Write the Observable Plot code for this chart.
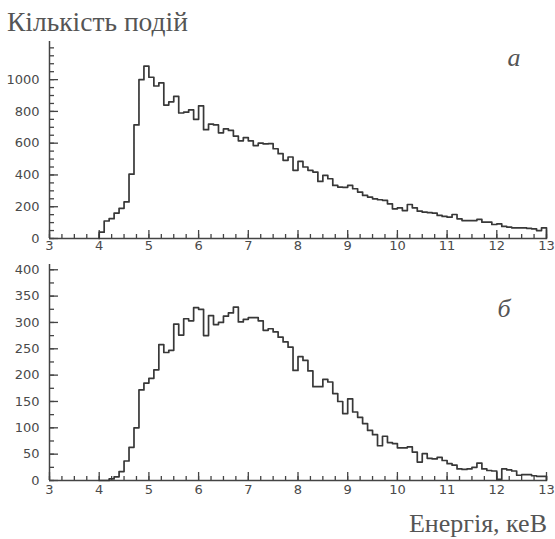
<!DOCTYPE html>
<html><head><meta charset="utf-8">
<script src="https://cdn.jsdelivr.net/npm/d3@7"></script>
<script src="https://cdn.jsdelivr.net/npm/@observablehq/plot@0.6"></script>
<style>
body{margin:0;background:#fff}
#chart{position:relative;width:555px;height:539px;overflow:hidden;background:#fff}
#chart svg{position:absolute;left:0}
</style></head><body><div id="chart"></div>
<script>
// histogram bins: 0.1 keV wide, starting at 4.0 keV
const binStart = 4.0, binWidth = 0.1;
// panel (а)
const countsA = [
  40,110,125,160,190,230,405,715,1000,1085,
  1015,960,980,840,860,895,790,795,810,750,
  835,685,720,715,665,690,680,645,615,635,
  615,585,600,595,597,565,534,492,513,429,
  485,450,429,418,359,397,376,334,324,322,
  334,313,292,271,261,250,244,240,218,187,
  193,176,214,193,172,166,163,160,145,139,
  134,151,124,113,113,113,120,103,103,88,
  92,76,72,67,67,67,64,61,50,67
];
// panel (б)
const countsB = [
  0,0,3,7,17,37,63,100,172,185,
  194,210,258,243,247,297,276,307,303,328,
  325,275,313,296,300,312,318,329,301,306,
  309,309,303,285,288,282,272,263,253,209,
  235,228,208,178,178,192,187,165,150,127,
  155,130,120,108,95,87,66,84,72,70,
  62,62,64,54,35,51,42,41,44,38,
  32,29,22,21,22,25,33,22,19,18,
  2,22,20,18,10,11,11,9,8,8
];
const xTicks = [3,4,5,6,7,8,9,10,11,12,13];
const yTicksA = [0,200,400,600,800,1000];
const yTicksB = [0,50,100,150,200,250,300,350,400];
const xMinor = d3.range(3, 13.001, 0.25);
const yMinorA = d3.range(0, 1201, 50);
const yMinorB = d3.range(0, 401, 25);

const titleY = "Кількість подій";
const titleX = "Енергія, кеВ";
const labelA = "а", labelB = "б";

const ink = "#444";
const W = 555;

function steps(counts){
  const pts = [{x: binStart, y: 0}];
  counts.forEach((c, i) => pts.push({x: binStart + i*binWidth, y: c}));
  const end = binStart + counts.length*binWidth;
  pts.push({x: end, y: counts[counts.length-1]});
  pts.push({x: end, y: 0});
  return pts;
}

function panel({counts, yMax, yTicks, yMinor, height, mt, mb, pad}){
  const ml = 49, mr = 9;
  const ph = height - mt - mb, pw = W - ml - mr;
  const svg = Plot.plot({
    width: W, height, marginLeft: ml, marginRight: mr, marginTop: mt, marginBottom: mb,
    x: {domain: [3, 13]},
    y: {domain: [0, yMax]},
    style: {background: "transparent", color: "#4a4a4a"},
    marks: [
      Plot.ruleY([0], {stroke: ink, strokeWidth: 1.5}),
      Plot.ruleX([3], {stroke: ink, strokeWidth: 1.5}),
      Plot.tickX(xMinor, {x: d => d, insetTop: ph - 4, stroke: ink, strokeWidth: 1.3}),
      Plot.tickX(xTicks, {x: d => d, insetTop: ph - 8, stroke: ink, strokeWidth: 1.3}),
      Plot.tickY(yMinor, {y: d => d, insetRight: pw - 5, stroke: ink, strokeWidth: 1.3}),
      Plot.tickY(yTicks, {y: d => d, insetRight: pw - 9, stroke: ink, strokeWidth: 1.3}),
      Plot.axisX({ticks: xTicks, tickSize: 0, tickPadding: pad, tickFormat: d => String(d), label: null}),
      Plot.axisY({ticks: yTicks, tickSize: 0, tickPadding: 10, tickFormat: d => String(d), label: null}),
      Plot.line(steps(counts), {x: "x", y: "y", curve: "step-after", stroke: "#383838", strokeWidth: 1.7})
    ]
  });
  // tick-label typography as in the scan
  svg.querySelectorAll("text").forEach(t => {
    t.setAttribute("font-size", "13");
    t.style.fontSize = "13px";
    t.style.fontFamily = "'DejaVu Sans', sans-serif";
    t.style.fill = "#4a4a4a";
  });
  svg.querySelectorAll("g[aria-label$='tick label']").forEach(g => {
    g.setAttribute("font-size", "13");
    g.style.fontSize = "13px";
    g.style.fontFamily = "'DejaVu Sans', sans-serif";
  });
  return svg;
}

const chart = document.getElementById("chart");
const a = panel({counts: countsA, yMax: 1240, yTicks: yTicksA, yMinor: yMinorA, height: 262, mt: 41, mb: 24, pad: 2});
a.style.top = "0px";
chart.appendChild(a);
const b = panel({counts: countsB, yMax: 410, yTicks: yTicksB, yMinor: yMinorB, height: 249, mt: 9, mb: 24, pad: 4});
b.style.top = "255px";
chart.appendChild(b);

// overlay texts
const ns = "http://www.w3.org/2000/svg";
const ov = document.createElementNS(ns, "svg");
ov.setAttribute("width", W); ov.setAttribute("height", 539); ov.style.top = "0px";
function txt(s, x, y, size, anchor, italic){
  const t = document.createElementNS(ns, "text");
  t.setAttribute("x", x); t.setAttribute("y", y);
  t.setAttribute("font-family", "'Liberation Serif', 'DejaVu Serif', serif");
  t.setAttribute("font-size", size); t.setAttribute("fill", "#555");
  t.setAttribute("text-anchor", anchor);
  if (italic) t.setAttribute("font-style", "italic");
  t.textContent = s; ov.appendChild(t);
}
txt(titleY, 7, 31, 27.5, "start", false);
txt(labelA, 514, 66, 26, "middle", true);
txt(labelB, 504, 317, 26, "middle", true);
txt(titleX, 547, 532, 26, "end", false);
chart.appendChild(ov);
</script></body></html>
